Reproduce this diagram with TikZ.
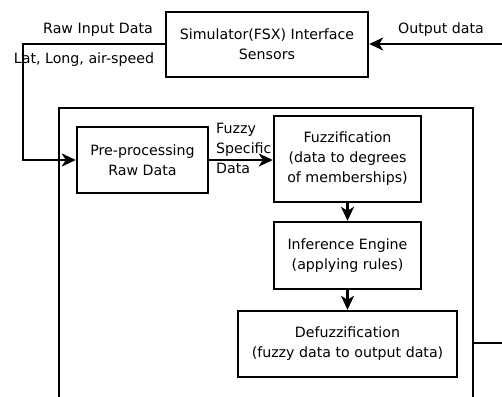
\documentclass[tikz,border=0pt]{standalone}
\usepackage{fontspec}
\setmainfont{DejaVu Sans}
\usetikzlibrary{arrows.meta}
\begin{document}
\begin{tikzpicture}[x=1pt,y=-1pt,
  blk/.style={draw,line width=2.4pt,inner sep=0pt,align=center,font=\fontsize{14.2}{20}\selectfont},
  lbl/.style={inner sep=0pt,font=\fontsize{14.2}{20}\selectfont},
  conn/.style={line width=2.4pt},
  arr/.style={conn,-{Stealth[length=14pt,width=13pt,inset=4pt]}}]
\useasboundingbox (0,0) rectangle (502,396);
\node[blk,minimum width=202pt,minimum height=65pt] (sim) at (267,44.5) {Simulator(FSX) Interface\\Sensors};
\node[draw,line width=2.4pt,minimum width=414pt,minimum height=300pt,inner sep=0pt] (big) at (266,258) {};
\node[blk,minimum width=131pt,minimum height=66pt] (pre) at (142.5,160) {Pre-processing\\Raw Data};
\node[blk,minimum width=147pt,minimum height=86pt] (fuz) at (347.5,159) {Fuzzification\\(data to degrees\\of memberships)};
\node[blk,minimum width=147pt,minimum height=67pt] (inf) at (347.5,255.5) {Inference Engine\\(applying rules)};
\node[blk,minimum width=219pt,minimum height=66pt] (def) at (347.5,344) {Defuzzification\\(fuzzy data to output data)};
\coordinate (outR) at (502,44);
\coordinate (bigR) at (502,343);
\coordinate (lc1) at (23,44);
\draw[arr] (outR) -- (sim.east |- outR);
\draw[arr] (sim.west |- lc1) -- (lc1) |- (pre.west);
\draw[arr] (pre.east) -- (pre.east -| fuz.west);
\draw[arr] (fuz) -- (inf);
\draw[arr] (inf) -- (def);
\draw[conn] (big.east |- bigR) -- (bigR);
\node[lbl] (outlbl) at (441,30) {Output data};
\node[lbl] (rawlbl) at (98,30) {Raw Input Data};
\node[lbl] (latlbl) at (84,60) {Lat, Long, air-speed};
\node[lbl,align=left,anchor=north west] (fslbl) at (216,123) {Fuzzy\\Specific\\Data};
\end{tikzpicture}
\end{document}
